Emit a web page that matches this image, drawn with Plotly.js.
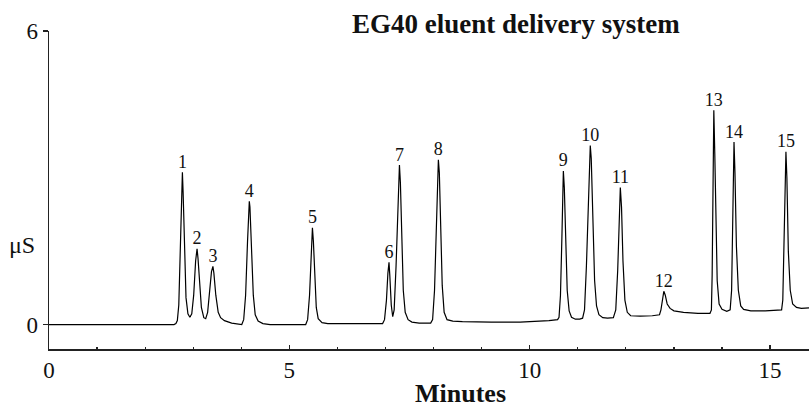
<!DOCTYPE html>
<html>
<head>
<meta charset="utf-8">
<script src="https://cdn.plot.ly/plotly-3.0.1.min.js"></script>
<style>html,body{margin:0;padding:0;background:#fff;}#chart{width:809px;height:408px;}</style>
</head>
<body>
<div id="chart"></div>
<script>
// Retention time (minutes) of sampled points along the chromatogram trace
const traceTime = [
  0, 2.60,
  2.64, 2.67, 2.70, 2.73, 2.76, 2.775, 2.79, 2.82, 2.85, 2.89, 2.93,
  2.97, 3.01, 3.05, 3.08, 3.10, 3.13, 3.17, 3.22, 3.26,
  3.30, 3.34, 3.38, 3.41, 3.43, 3.47, 3.52, 3.57, 3.65, 3.80, 3.95, 4.01,
  4.05, 4.09, 4.13, 4.155, 4.167, 4.18, 4.21, 4.25, 4.29, 4.35, 4.45, 4.60, 5.34,
  5.38, 5.42, 5.46, 5.48, 5.50, 5.53, 5.56, 5.60, 5.68, 5.80, 6.94,
  6.98, 7.02, 7.05, 7.073, 7.09, 7.12, 7.15, 7.18, 7.22, 7.26, 7.29, 7.31, 7.34, 7.37, 7.41, 7.47, 7.55, 7.70, 7.94,
  7.98, 8.02, 8.06, 8.09, 8.10, 8.12, 8.15, 8.18, 8.22, 8.28, 8.40, 8.60, 9.20, 9.80, 10.40, 10.58,
  10.61, 10.64, 10.67, 10.69, 10.70, 10.72, 10.75, 10.78, 10.82, 10.87, 10.95, 11.04,
  11.10, 11.14, 11.18, 11.22, 11.25, 11.26, 11.28, 11.31, 11.35, 11.39, 11.44, 11.52, 11.62,
  11.74, 11.79, 11.83, 11.86, 11.885, 11.91, 11.94, 11.98, 12.03, 12.10, 12.30, 12.55, 12.70,
  12.73, 12.76, 12.79, 12.82, 12.86, 12.92, 13.00, 13.20, 13.50, 13.75,
  13.78, 13.795, 13.81, 13.83, 13.85, 13.875, 13.90, 13.94, 14.00, 14.10, 14.17,
  14.20, 14.225, 14.25, 14.27, 14.30, 14.34, 14.39, 14.45, 14.60, 14.90, 15.24,
  15.265, 15.29, 15.31, 15.33, 15.35, 15.38, 15.42, 15.47, 15.55, 15.65, 15.81
];
// Conductivity (µS) at those times
const traceSignal = [
  0, 0,
  0.02, 0.08, 0.40, 1.50, 2.80, 3.11, 2.70, 1.40, 0.55, 0.22, 0.15,
  0.22, 0.60, 1.30, 1.55, 1.35, 0.80, 0.35, 0.14, 0.12,
  0.25, 0.70, 1.08, 1.19, 1.05, 0.60, 0.25, 0.14, 0.08, 0.03, 0.00, 0.00,
  0.10, 0.60, 1.70, 2.40, 2.52, 2.40, 1.50, 0.60, 0.20, 0.07, 0.02, 0.00, 0.00,
  0.10, 0.60, 1.60, 1.98, 1.70, 0.90, 0.35, 0.12, 0.04, 0.02, 0.02,
  0.10, 0.50, 1.05, 1.27, 1.00, 0.40, 0.16, 0.30, 1.20, 2.60, 3.26, 2.90, 1.60, 0.70, 0.25, 0.10, 0.05, 0.03, 0.03,
  0.10, 0.70, 2.20, 3.25, 3.37, 3.10, 1.80, 0.80, 0.25, 0.10, 0.07, 0.06, 0.05, 0.05, 0.08, 0.10,
  0.15, 0.60, 1.80, 2.80, 3.14, 2.80, 1.60, 0.70, 0.28, 0.15, 0.11, 0.11,
  0.13, 0.30, 1.20, 2.60, 3.50, 3.66, 3.40, 2.10, 0.90, 0.38, 0.20, 0.14, 0.13,
  0.14, 0.30, 1.10, 2.30, 2.80, 2.40, 1.30, 0.50, 0.25, 0.18, 0.17, 0.18, 0.20,
  0.30, 0.55, 0.68, 0.60, 0.42, 0.33, 0.28, 0.25, 0.23, 0.23,
  0.30, 1.00, 2.60, 4.38, 3.50, 1.90, 0.90, 0.42, 0.31, 0.27, 0.30,
  0.70, 2.20, 3.73, 3.10, 1.60, 0.70, 0.38, 0.31, 0.28, 0.28, 0.30,
  0.50, 1.60, 3.10, 3.53, 3.00, 1.50, 0.70, 0.42, 0.35, 0.33, 0.34
];
// Peak numbering
const peakLabels = ["1","2","3","4","5","6","7","8","9","10","11","12","13","14","15"];
const peakTimes = [2.775, 3.08, 3.41, 4.167, 5.48, 7.073, 7.29, 8.10, 10.70, 11.26, 11.885, 12.79, 13.83, 14.25, 15.33];
const peakHeights = [3.11, 1.55, 1.19, 2.52, 1.98, 1.27, 3.26, 3.37, 3.14, 3.66, 2.80, 0.68, 4.38, 3.73, 3.53];
// Axis ticks
const xTickVals = [0, 5, 10, 15];
const yTickVals = [0, 6];

const serif = "Liberation Serif, Times New Roman, serif";
const axisColor = "#222";

const data = [
  {
    x: traceTime, y: traceSignal, type: "scatter", mode: "lines",
    line: {color: "#000", width: 1.2}, hoverinfo: "skip", cliponaxis: false
  },
  {
    x: peakTimes, y: peakHeights, text: peakLabels, type: "scatter", mode: "text",
    textposition: "top center", textfont: {family: serif, size: 18, color: "#111"},
    hoverinfo: "skip", cliponaxis: false
  }
];

const layout = {
  width: 809, height: 408,
  margin: {l: 49, r: 0, t: 31, b: 59},
  paper_bgcolor: "#fff", plot_bgcolor: "#fff",
  showlegend: false,
  font: {family: serif, color: "#111"},
  xaxis: {
    range: [0, 15.81], showgrid: false, zeroline: false,
    showline: true, linecolor: axisColor, linewidth: 1.5,
    tickvals: xTickVals, ticks: "inside", ticklen: 4, tickwidth: 1.3, tickcolor: axisColor,
    tickfont: {family: serif, size: 23, color: "#111"},
    minor: {dtick: 1, ticks: "inside", ticklen: 2, tickwidth: 1.2, tickcolor: axisColor},
    fixedrange: true
  },
  xaxis2: {
    overlaying: "x", matches: "x", range: [0, 15.81], side: "bottom",
    showgrid: false, zeroline: false, showline: false, showticklabels: false,
    tickvals: xTickVals, ticks: "outside", ticklen: 3, tickwidth: 1.3, tickcolor: axisColor
  },
  yaxis: {
    range: [-0.5, 6], showgrid: false, zeroline: false,
    showline: true, linecolor: axisColor, linewidth: 1.5,
    tickvals: yTickVals, ticks: "outside", ticklen: 5, tickwidth: 1.3, tickcolor: axisColor,
    tickfont: {family: serif, size: 23, color: "#111"},
    fixedrange: true
  },
  annotations: [
    {text: "<b>EG40 eluent delivery system</b>", xref: "paper", yref: "paper",
     x: 0.6145, y: 1.022, xanchor: "center", yanchor: "middle", showarrow: false,
     font: {family: serif, size: 27, color: "#111"}},
    {text: "<b>Minutes</b>", xref: "paper", yref: "paper",
     x: 0.542, y: -0.139, xanchor: "center", yanchor: "middle", showarrow: false,
     font: {family: serif, size: 26, color: "#111"}},
    {text: "μS", xref: "paper", yref: "paper",
     x: -0.0355, y: 0.327, xanchor: "center", yanchor: "middle", showarrow: false,
     font: {family: serif, size: 24, color: "#111"}}
  ]
};

Plotly.newPlot("chart", data, layout, {displayModeBar: false, staticPlot: true});
</script>
</body>
</html>
